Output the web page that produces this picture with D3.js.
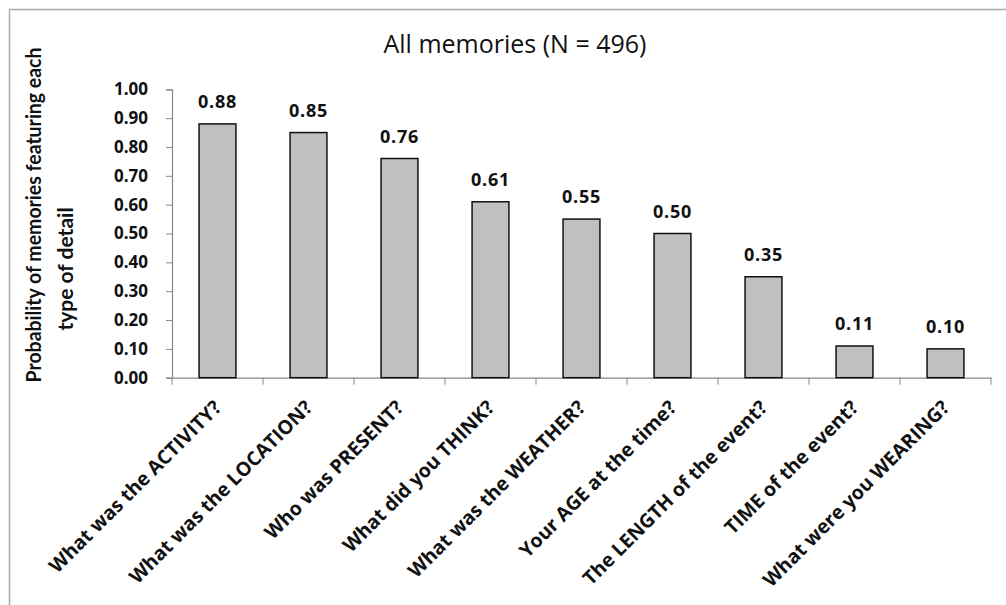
<!DOCTYPE html>
<html><head><meta charset="utf-8">
<script src="https://cdn.jsdelivr.net/npm/d3@7"></script>
<style>body{margin:0;background:#fff;}svg{display:block;font-family:"Open Sans",Lato,sans-serif;font-weight:bold;}</style>
</head><body>
<svg id="c" width="1006" height="605"></svg>
<script>
const categories = ["What was the ACTIVITY?","What was the LOCATION?","Who was PRESENT?","What did you THINK?","What was the WEATHER?","Your AGE at the time?","The LENGTH of the event?","TIME of the event?","What were you WEARING?"];
const values = [0.88,0.85,0.76,0.61,0.55,0.50,0.35,0.11,0.10];
const yTicks = [0,0.1,0.2,0.3,0.4,0.5,0.6,0.7,0.8,0.9,1.0];
const title = "All memories (N = 496)";
const yTitle = ["Probability of memories featuring each","type of detail"];

const svg = d3.select("#c");
svg.append("rect").attr("x",9.5).attr("y",9.5).attr("width",1010).attr("height",610)
  .attr("fill","none").attr("stroke","#aaa").attr("stroke-width",1.5);

const m = {l:172, r:991, t:89.3, b:377.7};
const x = d3.scaleBand().domain(categories).range([m.l,m.r]).paddingInner(0.595).paddingOuter(0.2975);
const y = d3.scaleLinear().domain([0,1]).range([m.b,m.t]);

svg.append("text").attr("x",515).attr("y",53).attr("text-anchor","middle")
  .attr("font-size",25).style("font-weight","500").attr("fill","#111").text(title);

// y axis
const ya = svg.append("g").attr("transform",`translate(${m.l},0)`)
  .call(d3.axisLeft(y).tickValues(yTicks).tickFormat(d3.format(".2f")).tickSize(6).tickPadding(18));
ya.select(".domain").attr("stroke","#888").attr("stroke-width",1.2);
ya.selectAll(".tick line").attr("stroke","#888");
ya.selectAll(".tick text").attr("font-size",17).attr("font-family","'Open Sans',Lato,sans-serif").attr("font-weight","bold").attr("fill","#111");

// x axis
const xa = svg.append("g").attr("transform",`translate(0,${m.b})`)
  .call(d3.axisBottom(x).tickSize(0).tickSizeOuter(0).tickFormat(""));
xa.select(".domain").attr("stroke","#888").attr("stroke-width",1.2);
xa.selectAll(".tick").remove();
const bounds = d3.range(categories.length+1).map(i => m.l + i*x.step());
svg.append("g").selectAll("line").data(bounds).join("line")
  .attr("x1",d=>d).attr("x2",d=>d).attr("y1",m.b).attr("y2",m.b+7).attr("stroke","#888").attr("stroke-width",1);

// bars
svg.append("g").selectAll("rect").data(values).join("rect")
  .attr("x",(d,i)=>x(categories[i])).attr("width",x.bandwidth())
  .attr("y",d=>y(d)).attr("height",d=>y(0)-y(d))
  .attr("fill","#c0c0c0").attr("stroke","#111").attr("stroke-width",1.5);

// value labels
svg.append("g").selectAll("text").data(values).join("text")
  .attr("x",(d,i)=>x(categories[i])+x.bandwidth()/2).attr("y",d=>y(d)-16)
  .attr("text-anchor","middle").attr("font-size",18).attr("letter-spacing",0.8).attr("fill","#111")
  .text(d=>d3.format(".2f")(d));

// category labels
svg.append("g").selectAll("text").data(categories).join("text")
  .attr("transform",d=>`translate(${x(d)+x.bandwidth()/2+5},${m.b+31}) rotate(-45)`)
  .attr("text-anchor","end").attr("font-size",19.5).attr("fill","#111").text(d=>d);

// y title
svg.append("text").attr("transform","translate(41,215) rotate(-90)").attr("text-anchor","middle")
  .attr("font-size",21).style("font-family","Lato,sans-serif").style("font-weight","bold").attr("fill","#111")
  .attr("textLength",335).attr("lengthAdjust","spacingAndGlyphs").text(yTitle[0]);
svg.append("text").attr("transform","translate(73,269) rotate(-90)").attr("text-anchor","middle")
  .attr("font-size",21).style("font-family","Lato,sans-serif").style("font-weight","bold").attr("fill","#111")
  .text(yTitle[1]);
</script>
</body></html>
